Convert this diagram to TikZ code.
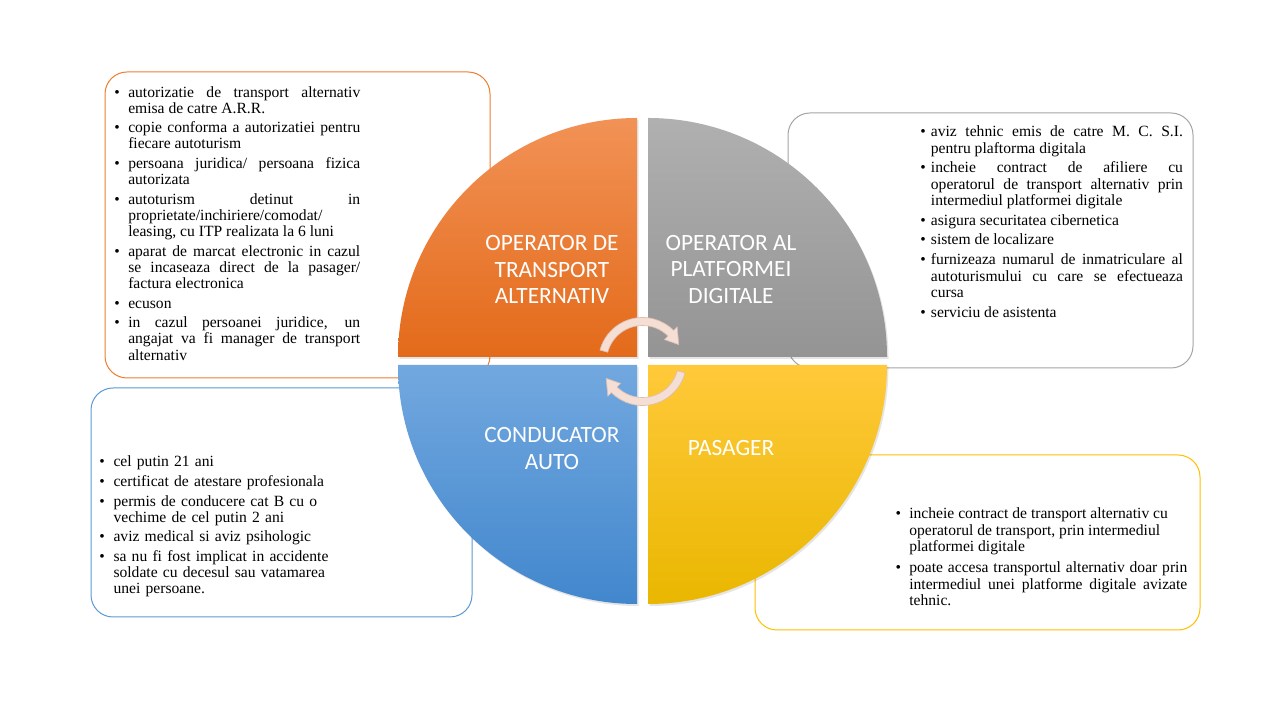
\documentclass[tikz,border=0pt]{standalone}
\usepackage{fontspec}
\setmainfont{Liberation Serif}
\newfontfamily\lbl{Carlito}
\newfontfamily\tnr{Liberation Serif}
\usetikzlibrary{arrows.meta}
\definecolor{oA}{RGB}{242,146,86}
\definecolor{oB}{RGB}{227,106,26}
\definecolor{gA}{RGB}{176,176,176}
\definecolor{gB}{RGB}{148,148,148}
\definecolor{bA}{RGB}{114,168,223}
\definecolor{bB}{RGB}{66,135,205}
\definecolor{yA}{RGB}{255,201,58}
\definecolor{yB}{RGB}{233,183,0}
\definecolor{oLine}{RGB}{237,125,49}
\definecolor{gLine}{RGB}{165,165,165}
\definecolor{bLine}{RGB}{91,155,213}
\definecolor{yLine}{RGB}{255,192,0}
\definecolor{arrowc}{RGB}{245,222,212}
\definecolor{arrowd}{RGB}{222,190,178}
\newlength\hangw
\newlength\gapw
\newcommand{\bi}[1]{\noindent\hangindent=\hangw\hangafter=1\makebox[\hangw][l]{\rule{0pt}{9pt}\textbullet}#1\par}
\newcommand{\gp}{\vspace{\gapw}}
\newcommand{\setpar}{\tolerance=10000\hbadness=10000\hyphenpenalty=10000\exhyphenpenalty=10000\parindent=0pt}
\tikzset{
  txt/.style={anchor=north west, inner sep=0pt, text=black},
  qlabel/.style={text=white, font=\lbl\fontsize{17.5}{19.9}\selectfont, align=center, inner sep=0pt},
  infobox/.style={rounded corners=16.5pt, line width=0.75pt, fill=white},
  cyc/.style={fill=arrowc, draw=arrowd, line width=0.5pt},
  shadowq/.style={fill=black, opacity=0.10}
}
\begin{document}
\begin{tikzpicture}[x=0.75pt,y=0.75pt]
\useasboundingbox (0,0) rectangle (1280,720);
\fill[white] (0,0) rectangle (1280,720);

% info boxes (behind the circle)
\draw[infobox, draw=oLine] (105,342) rectangle (490,648);
\draw[infobox, draw=gLine] (788,352) rectangle (1193,607);
\draw[infobox, draw=bLine] (91,103) rectangle (472,332);
\draw[infobox, draw=yLine] (755,90) rectangle (1200,265);

% shadows
\fill[shadowq] (638.5,361) -- (399.5,361) arc[start angle=180,end angle=90,radius=179.25pt] -- cycle;
\fill[shadowq] (649.5,361) -- (649.5,600) arc[start angle=90,end angle=0,radius=179.25pt] -- cycle;
\fill[shadowq] (638.5,353) -- (399.5,353) arc[start angle=180,end angle=270,radius=179.25pt] -- cycle;
\fill[shadowq] (649.5,353) -- (888.5,353) arc[start angle=0,end angle=-90,radius=179.25pt] -- cycle;

% quadrants
\shade[top color=oA, bottom color=oB] (637,363) -- (398,363) arc[start angle=180,end angle=90,radius=179.25pt] -- cycle;
\shade[top color=gA, bottom color=gB] (648,363) -- (648,602) arc[start angle=90,end angle=0,radius=179.25pt] -- cycle;
\shade[top color=bA, bottom color=bB] (637,355) -- (398,355) arc[start angle=180,end angle=270,radius=179.25pt] -- cycle;
\shade[top color=yA, bottom color=yB] (648,355) -- (887,355) arc[start angle=0,end angle=-90,radius=179.25pt] -- cycle;

% quadrant labels
\node[qlabel] (lo) at (552,450.5) {OPERATOR DE\\TRANSPORT\\ALTERNATIV};
\node[qlabel] (lg) at (731,450.5) {OPERATOR AL\\PLATFORMEI\\DIGITALE};
\node[qlabel] (lb) at (552,271.5) {CONDUCATOR\\AUTO};
\node[qlabel] (ly) at (731,272) {PASAGER};

% circular arrows
\begin{scope}[shift={(642.5,358.5)}]
\draw[cyc] (165:33pt) arc[start angle=165,end angle=45,radius=33pt] -- (45:36.75pt) -- (25:30pt) -- (45:23.25pt) -- (45:27pt) arc[start angle=45,end angle=165,radius=27pt] -- cycle;
\end{scope}
\begin{scope}[shift={(642.5,358.5)},rotate=180]
\draw[cyc] (165:33pt) arc[start angle=165,end angle=45,radius=33pt] -- (45:36.75pt) -- (25:30pt) -- (45:23.25pt) -- (45:27pt) arc[start angle=45,end angle=165,radius=27pt] -- cycle;
\end{scope}

% texts
\node[txt, text width=184.5pt, align=justify, font=\tnr\fontsize{11.7}{12.15}\selectfont] (to) at (114,635.2) {\setpar\setlength\hangw{10.5pt}\setlength\gapw{2.5pt}%
\bi{autorizatie de transport alternativ\linebreak emisa de catre A.R.R.}\gp
\bi{copie conforma a autorizatiei pentru\linebreak fiecare autoturism}\gp
\bi{persoana juridica/ persoana fizica\linebreak autorizata}\gp
\bi{autoturism detinut in\linebreak proprietate/inchiriere/comodat/\newline leasing, cu ITP realizata la 6 luni}\gp
\bi{aparat de marcat electronic in cazul\linebreak se incaseaza direct de la pasager/\linebreak factura electronica}\gp
\bi{ecuson}\gp
\bi{in cazul persoanei juridice, un\linebreak angajat va fi manager de transport\linebreak alternativ}};

\node[txt, text width=197pt, align=justify, font=\tnr\fontsize{11.7}{12.4}\selectfont] (tg) at (920,595.5) {\setpar\setlength\hangw{8pt}\setlength\gapw{2.25pt}%
\bi{aviz tehnic emis de catre M. C. S.I.\linebreak pentru plaftorma digitala}\gp
\bi{incheie contract de afiliere cu\linebreak operatorul de transport alternativ prin\linebreak intermediul platformei digitale}\gp
\bi{asigura securitatea cibernetica}\gp
\bi{sistem de localizare}\gp
\bi{furnizeaza numarul de inmatriculare al\linebreak autoturismului cu care se efectueaza\linebreak cursa}\gp
\bi{serviciu de asistenta}};

\node[txt, text width=250pt, align=left, font=\tnr\fontsize{11.7}{12}\selectfont] (tb) at (99,265.5) {\setpar\setlength\hangw{10.7pt}\setlength\gapw{2.8pt}%
\bi{cel putin 21 ani}\gp
\bi{certificat de atestare profesionala}\gp
\bi{permis de conducere cat B cu o\newline vechime de cel putin 2 ani}\gp
\bi{aviz medical si aviz psihologic}\gp
\bi{sa nu fi fost implicat in accidente\newline soldate cu decesul sau vatamarea\newline unei persoane.}};

\node[txt, text width=218.8pt, align=justify, font=\tnr\fontsize{11.7}{12.4}\selectfont] (ty) at (895.3,213.5) {\setpar\setlength\hangw{10.3pt}\setlength\gapw{3.4pt}%
\bi{incheie contract de transport alternativ cu\newline operatorul de transport, prin intermediul\newline platformei digitale}\gp
\bi{poate accesa transportul alternativ doar prin\linebreak intermediul unei platforme digitale avizate\linebreak tehnic.}};
\end{tikzpicture}
\end{document}
